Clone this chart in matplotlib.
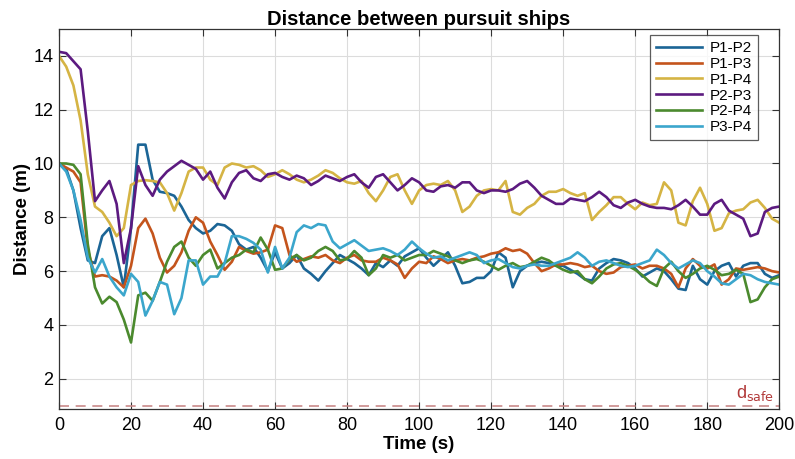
import numpy as np
import matplotlib
matplotlib.use("Agg")
import matplotlib.pyplot as plt

plt.rcParams['font.family'] = ['Liberation Sans', 'DejaVu Sans']

time_s = list(range(0, 201, 2))

p1_p2 = [10.0, 9.8, 9.0, 7.6, 6.4, 6.3, 7.3, 7.6, 6.6, 5.4,
         7.6, 10.7, 10.7, 9.4, 8.95, 8.9, 8.8, 8.4, 7.9, 7.6,
         7.4, 7.5, 7.75, 7.7, 7.5, 7.0, 6.8, 6.9, 6.5, 6.0,
         6.7, 6.1, 6.3, 6.6, 6.1, 5.9, 5.65, 6.0, 6.3, 6.6,
         6.45, 6.3, 6.1, 5.85, 6.3, 6.15, 6.4, 6.2, 6.55, 6.7,
         6.85, 6.5, 6.2, 6.45, 6.7, 6.2, 5.55, 5.6, 5.75, 5.75,
         6.0, 6.7, 6.5, 5.4, 6.0, 6.2, 6.3, 6.35, 6.3, 6.2,
         6.2, 6.05, 5.9, 5.7, 5.65, 6.1, 6.3, 6.45, 6.4, 6.3,
         6.1, 5.8, 5.95, 6.1, 6.0, 5.7, 5.35, 5.3, 6.2, 5.7,
         5.5, 6.0, 6.2, 6.3, 5.8, 6.2, 6.3, 6.3, 5.9, 5.75,
         5.85]

p1_p3 = [10.0, 9.85, 9.7, 9.3, 6.8, 5.8, 5.85, 5.8, 5.65, 5.4,
         6.2, 7.6, 7.95, 7.4, 6.5, 5.95, 6.2, 6.7, 7.5, 8.0,
         7.8, 7.1, 6.6, 6.05, 6.35, 6.9, 6.75, 6.65, 6.7, 6.8,
         7.7, 7.6, 6.6, 6.35, 6.45, 6.55, 6.5, 6.6, 6.4, 6.3,
         6.5, 6.6, 6.4, 6.35, 6.35, 6.5, 6.4, 6.25, 5.75, 6.1,
         6.35, 6.3, 6.55, 6.45, 6.3, 6.4, 6.45, 6.4, 6.5, 6.55,
         6.65, 6.7, 6.85, 6.75, 6.8, 6.65, 6.3, 6.0, 6.1, 6.25,
         6.25, 6.3, 6.25, 6.15, 6.2, 6.0, 5.9, 5.95, 6.15, 6.2,
         6.25, 6.1, 6.2, 6.2, 6.1, 5.9, 5.4, 6.1, 6.45, 6.2,
         6.1, 6.25, 5.5, 5.7, 6.1, 6.05, 6.1, 6.15, 6.1, 6.0,
         5.95]

p1_p4 = [14.0, 13.6, 12.9, 11.6, 9.6, 8.4, 8.2, 7.8, 7.3, 7.6,
         9.2, 9.35, 9.38, 9.35, 9.3, 8.9, 8.25, 8.9, 9.7, 9.85,
         9.85, 9.4, 9.2, 9.85, 10.0, 9.95, 9.85, 9.9, 9.75, 9.5,
         9.6, 9.75, 9.6, 9.4, 9.3, 9.4, 9.55, 9.75, 9.65, 9.45,
         9.3, 9.25, 9.35, 8.9, 8.6, 9.0, 9.5, 9.6, 9.0, 8.5,
         9.0, 9.2, 9.25, 9.2, 9.35, 9.0, 8.2, 8.4, 8.8, 9.0,
         9.05, 9.0, 9.35, 8.2, 8.1, 8.35, 8.5, 8.8, 8.95, 8.95,
         9.05, 8.9, 8.8, 8.9, 7.9, 8.2, 8.45, 8.75, 8.75, 8.5,
         8.3, 8.55, 8.45, 8.5, 9.3, 9.0, 7.8, 7.7, 8.6, 9.1,
         8.5, 7.5, 7.6, 8.15, 8.25, 8.3, 8.55, 8.65, 8.35, 7.95,
         7.8]

p2_p3 = [14.15, 14.1, 13.8, 13.5, 11.2, 8.6, 9.0, 9.35, 8.5, 6.3,
         7.6, 9.9, 9.2, 8.8, 9.4, 9.7, 9.9, 10.1, 9.95, 9.8,
         9.4, 9.7, 9.1, 8.7, 9.3, 9.65, 9.75, 9.45, 9.35, 9.6,
         9.65, 9.5, 9.4, 9.55, 9.45, 9.2, 9.35, 9.55, 9.45, 9.35,
         9.5, 9.6, 9.3, 9.1, 9.5, 9.6, 9.3, 9.0, 9.2, 9.45,
         9.3, 9.0, 8.95, 9.15, 9.2, 9.1, 9.3, 9.3, 9.0, 8.9,
         9.0, 9.0, 8.95, 9.05, 9.25, 9.35, 9.1, 8.8, 8.65, 8.5,
         8.5, 8.7, 8.65, 8.6, 8.75, 8.95, 8.75, 8.45, 8.35, 8.55,
         8.65, 8.5, 8.4, 8.35, 8.35, 8.3, 8.45, 8.65, 8.4, 8.1,
         8.1, 8.5, 8.65, 8.25, 8.1, 7.95, 7.3, 7.4, 8.2, 8.35,
         8.4]

p2_p4 = [10.0, 10.0, 9.95, 9.6, 7.0, 5.4, 4.8, 5.05, 4.85, 4.2,
         3.35, 5.1, 5.2, 4.9, 5.6, 6.35, 6.9, 7.1, 6.5, 6.2,
         6.6, 6.8, 6.1, 6.3, 6.5, 6.6, 6.8, 6.7, 7.25, 6.8,
         6.05, 6.1, 6.45, 6.6, 6.4, 6.5, 6.75, 6.9, 6.75, 6.4,
         6.45, 6.75, 6.5, 5.85, 6.1, 6.6, 6.5, 6.6, 6.4, 6.5,
         6.6, 6.6, 6.75, 6.65, 6.55, 6.4, 6.3, 6.4, 6.45, 6.35,
         6.2, 6.05, 6.2, 6.3, 6.15, 6.2, 6.35, 6.5, 6.4, 6.2,
         6.05, 5.95, 6.0, 5.7, 5.55, 5.8, 6.1, 6.25, 6.3, 6.2,
         6.05, 5.85, 5.6, 5.45, 6.1, 6.35, 6.0, 5.75, 5.9, 6.1,
         6.2, 6.05, 5.85, 5.9, 6.05, 5.9, 4.85, 4.95, 5.4, 5.7,
         5.8]

p3_p4 = [10.0, 9.7, 9.0, 7.9, 6.5, 5.95, 6.45, 5.8, 5.4, 5.1,
         5.9, 5.6, 4.35, 4.9, 5.6, 5.5, 4.4, 5.0, 6.4, 6.4,
         5.5, 5.8, 5.8, 6.3, 7.3, 7.3, 7.2, 7.05, 6.8, 5.95,
         6.9, 6.1, 6.5, 7.45, 7.7, 7.6, 7.75, 7.7, 7.1, 6.85,
         7.0, 7.15, 6.95, 6.75, 6.8, 6.85, 6.75, 6.6, 6.8, 7.1,
         6.85, 6.65, 6.5, 6.55, 6.4, 6.5, 6.6, 6.7, 6.6, 6.3,
         6.4, 6.45, 6.3, 6.15, 6.1, 6.2, 6.25, 6.2, 6.2, 6.3,
         6.4, 6.5, 6.7, 6.5, 6.2, 6.35, 6.4, 6.3, 6.2, 6.15,
         6.2, 6.3, 6.4, 6.8, 6.6, 6.3, 6.1, 6.25, 6.4, 6.3,
         6.0, 5.8, 5.55, 5.5, 5.7, 5.9, 5.85, 5.7, 5.6, 5.55,
         5.5]

labels = ["P1-P2", "P1-P3", "P1-P4", "P2-P3", "P2-P4", "P3-P4"]
series = [p1_p2, p1_p3, p1_p4, p2_p3, p2_p4, p3_p4]
colors = ["#1b6596", "#c4541c", "#d5b444", "#5c1a80", "#4b8a2e", "#3ba6cc"]
d_safe = 1.0

fig = plt.figure(figsize=(7.95, 4.59), dpi=100)
ax = fig.add_axes([0.0742, 0.109, 0.906, 0.828])

for lab, ys, c in zip(labels, series, colors):
    ax.plot(time_s, ys, color=c, lw=1.9, label=lab, solid_joinstyle='round')

ax.axhline(d_safe, color="#c98a8a", lw=1.2, ls=(0, (6, 4)))
ax.text(198.5, d_safe + 0.12, r"d$_{\mathrm{safe}}$", color="#b23a3a",
        ha="right", va="bottom", fontsize=13)

ax.set_xlim(0, 200)
ax.set_ylim(0.88, 15)
ax.set_xticks(range(0, 201, 20))
ax.set_yticks(range(2, 15, 2))
ax.grid(True, color="#dcdcdc", lw=0.8)
ax.set_axisbelow(True)
ax.tick_params(direction="in", top=True, right=True, labelsize=13, length=5,
               color="#333333")
ax.tick_params(axis="x", pad=6)
ax.tick_params(axis="y", pad=4)
for s in ax.spines.values():
    s.set_color("#333333")
    s.set_linewidth(0.9)

ax.set_title("Distance between pursuit ships", fontsize=14.6, fontweight="bold", pad=3)
ax.set_xlabel("Time (s)", fontsize=13.5, fontweight="bold", labelpad=1)
ax.set_ylabel("Distance (m)", fontsize=13.5, fontweight="bold", labelpad=2)

leg = ax.legend(loc="upper right", fontsize=11, frameon=True, fancybox=False,
                edgecolor="#333333", handlelength=3.0, borderpad=0.4,
                labelspacing=0.12, handletextpad=0.5, borderaxespad=0.0,
                bbox_to_anchor=(758 / 795, 1 - 35 / 459),
                bbox_transform=fig.transFigure)
leg.get_frame().set_linewidth(0.9)

fig.savefig("out.png", dpi=100, facecolor="white")
